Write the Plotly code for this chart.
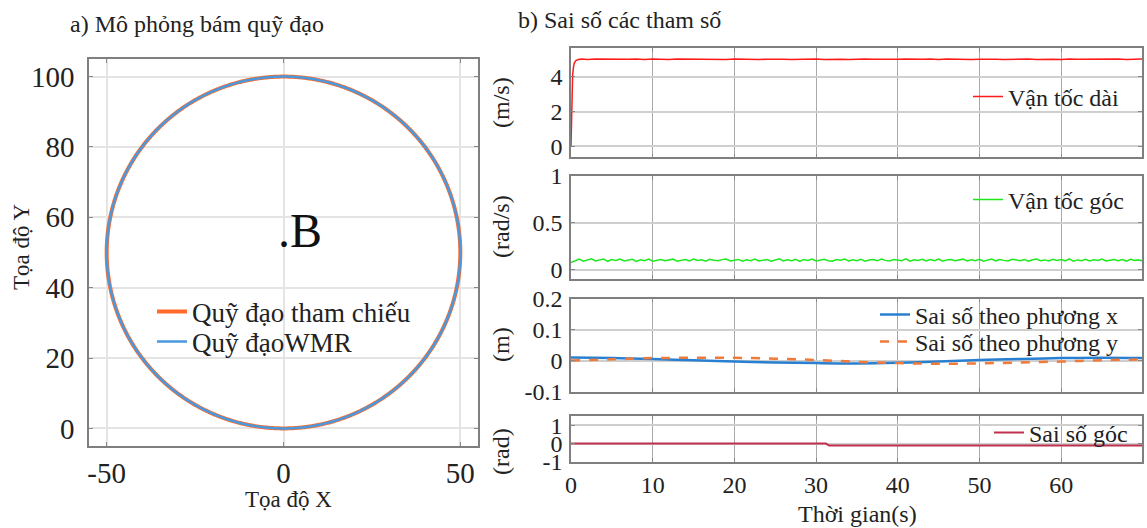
import numpy as np
import plotly.graph_objects as go

W, H = 1147, 528
FONT = "Liberation Serif"
TXT = "#222222"

# ---------------- data ----------------
# a) trajectory (circle centre / radius)
traj_center = (0.0, 50.0)
traj_radius = 50.0
ref_name = "Quỹ đạo tham chiếu"
wmr_name = "Quỹ đạoWMR"

# b) linear velocity (m/s)
v_t_rise = [0, 0.05, 0.1, 0.15, 0.2, 0.3, 0.4, 0.6, 0.9, 1.3]
v_rise = [0, 1.5, 2.8, 3.6, 4.1, 4.55, 4.78, 4.93, 4.99, 5.01]
v_flat = [4.99, 5.01, 5.0, 5.02, 4.99, 5.0, 5.01, 4.99, 5.02, 5.0, 4.99, 5.01, 5.0, 5.02,
          4.99, 5.01, 5.0, 4.99, 5.02, 5.0, 5.01, 4.99, 5.0, 5.02, 5.0, 4.99, 5.01, 5.0,
          5.02, 4.99, 5.01, 5.0, 4.99, 5.01, 5.02, 5.0, 4.99, 5.01, 5.0, 5.02, 4.99, 5.0,
          5.01, 4.99, 5.02, 5.0, 5.01, 4.99, 5.0, 5.02, 5.0, 4.99, 5.01, 5.0, 5.02, 4.99,
          5.01, 5.0, 4.99, 5.02, 5.0, 5.01, 4.99, 5.0, 5.02, 5.01, 4.99, 5.0, 5.01]
# angular velocity (rad/s), sampled over 0..70 s
w_vals = [0.075, 0.098, 0.112, 0.091, 0.106, 0.115, 0.093, 0.101, 0.113, 0.089, 0.107, 0.097,
          0.114, 0.092, 0.104, 0.110, 0.088, 0.106, 0.096, 0.113, 0.091, 0.103, 0.109, 0.094,
          0.105, 0.112, 0.090, 0.100, 0.108, 0.093, 0.113, 0.097, 0.105, 0.091, 0.110, 0.101,
          0.094, 0.107, 0.114, 0.092, 0.100, 0.109, 0.090, 0.106, 0.096, 0.112, 0.093, 0.104,
          0.108, 0.091, 0.102, 0.115, 0.094, 0.106, 0.096, 0.110, 0.088, 0.107, 0.099, 0.113,
          0.092, 0.104, 0.111, 0.095, 0.091, 0.108, 0.101, 0.114, 0.093, 0.106, 0.096, 0.111,
          0.090, 0.102, 0.107, 0.094, 0.112, 0.099, 0.092, 0.109, 0.104, 0.095, 0.115, 0.091,
          0.106, 0.099, 0.111, 0.093, 0.107, 0.096, 0.113, 0.090, 0.104, 0.108, 0.094, 0.102,
          0.112, 0.092, 0.106, 0.096, 0.110, 0.091, 0.104, 0.114, 0.094, 0.107, 0.099, 0.093,
          0.111, 0.101, 0.095, 0.108, 0.090, 0.106, 0.113, 0.096, 0.104, 0.092, 0.110, 0.099,
          0.107, 0.094, 0.115, 0.091, 0.104, 0.096, 0.111, 0.093, 0.106, 0.099, 0.112, 0.092,
          0.102, 0.108, 0.095, 0.107, 0.090, 0.110, 0.099, 0.104, 0.094]
# position errors (m)
e_t = [0, 5, 10, 15, 20, 25, 30, 35, 40, 45, 50, 55, 60, 65, 70]
ex = [0.011, 0.009, 0.006, 0.002, -0.002, -0.005, -0.007, -0.008, -0.006, -0.002, 0.003, 0.006, 0.009, 0.010, 0.009]
ey = [0.001, 0.005, 0.009, 0.010, 0.010, 0.007, 0.003, -0.003, -0.007, -0.009, -0.008, -0.005, -0.002, 0.002, 0.005]
# angle error (rad)
a_t = [0, 31.2, 31.6, 70]
a_err = [0, 0, -0.11, -0.11]

# ---------------- helpers ----------------
def px(x):
    return x / W

def py(y):
    return 1 - y / H

theta = np.linspace(0, 2 * np.pi, 1200)
cx = traj_center[0] + traj_radius * np.cos(theta)
cy = traj_center[1] + traj_radius * np.sin(theta)

v_t = v_t_rise + list(np.linspace(2, 70, len(v_flat)))
v = v_rise + v_flat
w_t = np.linspace(0, 70, len(w_vals))

fig = go.Figure()

# left panel
fig.add_trace(go.Scatter(x=cx, y=cy, mode="lines", name=ref_name,
                         line=dict(color="#ff6a2a", width=4, simplify=False),
                         xaxis="x", yaxis="y", legend="legend"))
fig.add_trace(go.Scatter(x=cx, y=cy, mode="lines", name=wmr_name,
                         line=dict(color="#4a98dd", width=2.5, simplify=False),
                         xaxis="x", yaxis="y", legend="legend2"))

# right panels
fig.add_trace(go.Scatter(x=v_t, y=v, mode="lines", name="Vận tốc dài",
                         line=dict(color="#ff1a1a", width=1.5), xaxis="x2", yaxis="y2",
                         legend="legend3"))
fig.add_trace(go.Scatter(x=w_t, y=w_vals, mode="lines", name="Vận tốc góc",
                         line=dict(color="#1fe81f", width=1.5), xaxis="x3", yaxis="y3",
                         legend="legend4"))
fig.add_trace(go.Scatter(x=e_t, y=ex, mode="lines", name="Sai số theo phương x",
                         line=dict(color="#2a80d0", width=2.5, shape="spline"),
                         xaxis="x4", yaxis="y4", legend="legend5"))
fig.add_trace(go.Scatter(x=e_t, y=ey, mode="lines", name="Sai số theo phương y",
                         line=dict(color="#f07a3a", width=2.5, dash="dash", shape="spline"),
                         xaxis="x4", yaxis="y4", legend="legend6"))
fig.add_trace(go.Scatter(x=a_t, y=a_err, mode="lines", name="Sai số góc",
                         line=dict(color="#c0304f", width=2), xaxis="x5", yaxis="y5",
                         legend="legend7"))

axis_common = dict(showline=True, linecolor="#7f7f7f", linewidth=1.5, mirror="ticks",
                   ticks="inside", ticklen=4, tickcolor="#888888", zeroline=False,
                   automargin=False, fixedrange=True)

layout = dict(
    template="none",
    width=W, height=H, margin=dict(l=0, r=0, t=0, b=0, pad=0, autoexpand=False),
    paper_bgcolor="white", plot_bgcolor="white", font=dict(family=FONT, color=TXT),
    showlegend=True,
)

# left axes
layout["xaxis"] = dict(axis_common, domain=[px(89), px(478)], range=[-55, 55],
                       tickvals=[-50, 0, 50], ticktext=["-50", "0", "50"],
                       tickfont=dict(family=FONT, size=29, color=TXT),
                       showgrid=True, gridcolor="#e4e4e4", gridwidth=1.5,
                       ticklabelstandoff=0, anchor="y")
layout["yaxis"] = dict(axis_common, domain=[py(446), py(59)], range=[-5, 105],
                       tickvals=[0, 20, 40, 60, 80, 100],
                       tickfont=dict(family=FONT, size=29, color=TXT),
                       showgrid=True, gridcolor="#e4e4e4", gridwidth=1.5,
                       ticklabelstandoff=7, anchor="x")

# right axes
panels = [
    ("2", (48.3, 157.3), [-0.63, 5.63], [0, 2, 4], ["0", "2", "4"]),
    ("3", (176, 279), [-0.1, 1.0], [0, 0.5, 1], ["0", "0.5", "1"]),
    ("4", (298.7, 392), [-0.1, 0.2], [-0.1, 0, 0.1, 0.2], ["-0.1", "0", "0.1", "0.2"]),
    ("5", (416, 462), [-1, 1.5], [-1, 0, 1], ["-1", "0", "1"]),
]
for k, (top, bot), yr, tv, tt in panels:
    last = k == "5"
    layout["xaxis" + k] = dict(axis_common, domain=[px(571), px(1142)], range=[0, 69.9],
                               tickvals=[0, 10, 20, 30, 40, 50, 60],
                               showticklabels=last,
                               tickfont=dict(family=FONT, size=24, color=TXT),
                               showgrid=True, gridcolor="#a9a9a9", gridwidth=1,
                               ticklabelstandoff=0, anchor="y" + k)
    layout["yaxis" + k] = dict(axis_common, domain=[py(bot), py(top)], range=yr,
                               tickvals=tv, ticktext=tt,
                               tickfont=dict(family=FONT, size=24, color=TXT),
                               showgrid=True, gridcolor="#cfcfcf", gridwidth=1.5,
                               ticklabelstandoff=2, anchor="x" + k)

# legends (one per item for tight placement)
def leg(x_text, y_center, size):
    return dict(x=px(x_text - 42), y=py(y_center), xanchor="left", yanchor="middle",
                xref="paper", yref="paper", bgcolor="rgba(0,0,0,0)", borderwidth=0,
                font=dict(family=FONT, size=size, color=TXT), itemclick=False,
                itemdoubleclick=False, visible=True)

layout["legend"] = leg(194, 312, 27)
layout["legend2"] = leg(194, 342, 27)
layout["legend3"] = leg(1010, 97, 24)
layout["legend4"] = leg(1010, 200, 24)
layout["legend5"] = leg(917, 315, 24)
layout["legend6"] = leg(917, 342, 24)
layout["legend7"] = leg(1031, 433, 24)

fig.update_layout(**layout)

def ann(text, x, y, size, angle=0, xanchor="center", **kw):
    fig.add_annotation(text=text, x=px(x), y=py(y), xref="paper", yref="paper",
                       showarrow=False, textangle=angle, xanchor=xanchor, yanchor="middle",
                       font=dict(family=FONT, size=size, color=TXT), **kw)

ann("a) Mô phỏng bám quỹ đạo", 68, 24, 24, xanchor="left")
ann("b) Sai số các tham số", 516, 20, 24, xanchor="left")
ann("Tọa độ X", 288, 499, 23)
ann("Tọa độ Y", 21, 247, 23, angle=-90)
ann("Thời gian(s)", 857, 514, 24)
ann("(m/s)", 501, 103, 24, angle=-90)
ann("(rad/s)", 501, 227, 24, angle=-90)
ann("(m)", 501, 345, 24, angle=-90)
ann("(rad)", 501, 452, 24, angle=-90)

# ".B" marker text inside left axes
fig.add_annotation(text=".B", x=-2.0, y=56.2, xref="x", yref="y", showarrow=False,
                   xanchor="left", yanchor="middle",
                   font=dict(family=FONT, size=48, color="#111111"))

fig.write_html("out.html", post_script="document.body.style.margin='0px';",
               config={"displayModeBar": False, "staticPlot": False})
